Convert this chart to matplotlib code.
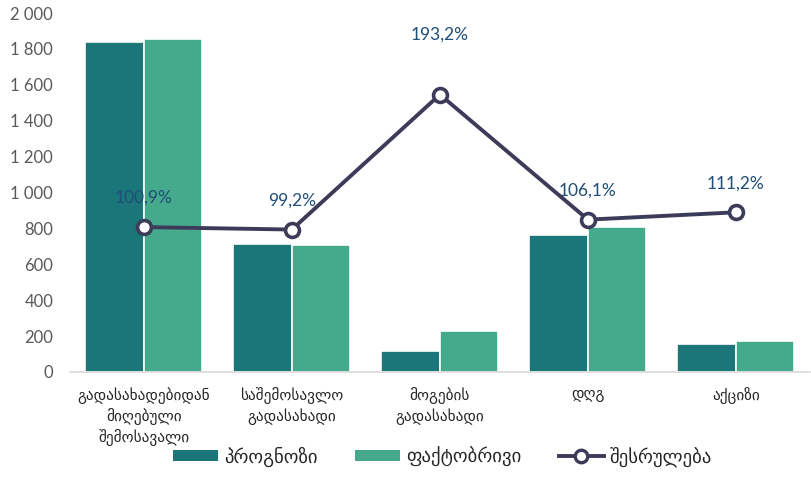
import matplotlib
matplotlib.use("Agg")
import matplotlib.pyplot as plt
import numpy as np
from matplotlib.lines import Line2D
from matplotlib.patches import Patch

categories = [
    "გადასახადებიდან\nმიღებული\nშემოსავალი",
    "საშემოსავლო\nგადასახადი",
    "მოგების\nგადასახადი",
    "დღგ",
    "აქციზი",
]
forecast = [1838, 713, 117, 763, 156]
actual = [1855, 707, 228, 808, 173]
execution = [100.9, 99.2, 193.2, 106.1, 111.2]
exec_labels = ["100,9%", "99,2%", "193,2%", "106,1%", "111,2%"]
label_offsets = [29, 29, 60, 29, 29]  # px above marker, as in reference

legend_names = ["პროგნოზი", "ფაქტობრივი", "შესრულება"]

C_FORECAST = "#1b7679"
C_ACTUAL = "#45aa8b"
C_LINE = "#3c3c5a"
C_LABEL = "#1f4e79"
C_TICK = "#595959"

plt.rcParams["font.family"] = ["Lato", "DejaVu Sans"]

fig = plt.figure(figsize=(8.12, 4.91), dpi=100)
ax = fig.add_axes([0.086, 0.2424, 0.9115, 0.7311])

x = np.arange(len(categories))
w = 0.395
ax.bar(x - w / 2, forecast, width=w, color=C_FORECAST, edgecolor="white", linewidth=1.2)
ax.bar(x + w / 2, actual, width=w, color=C_ACTUAL, edgecolor="white", linewidth=1.2)

ax.set_xlim(-0.5, len(categories) - 0.5)
ax.set_ylim(0, 2000)
ax.set_yticks(range(0, 2001, 200))
ax.set_yticklabels([f"{v:,}".replace(",", " ") for v in range(0, 2001, 200)])
ax.tick_params(axis="y", length=0, labelsize=12, colors=C_TICK, pad=12)
ax.set_xticks(x)
ax.set_xticklabels(categories, family=["DejaVu Sans"], fontsize=11, color="#262626",
                   linespacing=1.3)
ax.tick_params(axis="x", length=0, pad=11)
for s in ["top", "right", "left"]:
    ax.spines[s].set_visible(False)
ax.spines["bottom"].set_color("#d9d9d9")
ax.spines["bottom"].set_linewidth(1.2)

ax2 = ax.twinx()
ax2.set_ylim(0, 250)
ax2.axis("off")
ax2.plot(x, execution, color=C_LINE, linewidth=2.8, marker="o", markersize=10,
         markerfacecolor="white", markeredgecolor=C_LINE, markeredgewidth=2.6, zorder=5)
for xi, v, lab, off in zip(x, execution, exec_labels, label_offsets):
    ax2.annotate(lab, (xi, v), xytext=(0, off * 0.72), textcoords="offset points",
                 ha="center", va="center", fontsize=12.5, color=C_LABEL)

handles = [
    Patch(facecolor=C_FORECAST, edgecolor="none"),
    Patch(facecolor=C_ACTUAL, edgecolor="none"),
    Line2D([0], [0], color=C_LINE, linewidth=2.8, marker="o", markersize=9,
           markerfacecolor="white", markeredgecolor=C_LINE, markeredgewidth=2.4),
]
leg = fig.legend(handles, legend_names, loc="center", bbox_to_anchor=(0.545, 0.07),
                 ncol=3, frameon=False, handlelength=2.4, handleheight=0.55,
                 columnspacing=2.0, handletextpad=0.3,
                 prop={"family": ["DejaVu Sans"], "size": 13.5})
for t in leg.get_texts():
    t.set_color("#262626")

fig.savefig("out.png", dpi=100)
